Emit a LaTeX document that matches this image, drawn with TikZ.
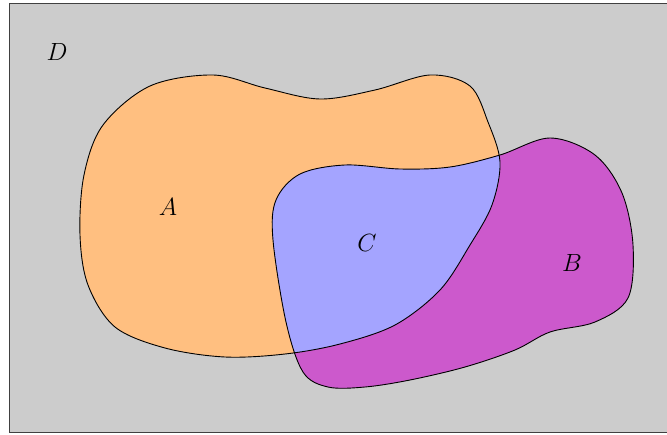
\documentclass[tikz,border=0pt]{standalone}
\begin{document}
\begin{tikzpicture}[x=1pt,y=-1pt]
\definecolor{cD}{RGB}{204,204,204}
\definecolor{cA}{RGB}{255,191,128}
\definecolor{cB}{RGB}{204,89,204}
\definecolor{cC}{RGB}{164,164,255}
\tikzset{
  outline/.style={draw=black,line width=0.9pt},
  setlabel/.style={font=\fontsize{24}{28}\selectfont},
}
\useasboundingbox (0,0) rectangle (667,434);
\def\pathA{plot[smooth cycle,tension=0.55] coordinates {(213,75) (265,88) (320,99) (375,90) (430,75) (470,86) (488,122) (500,162) (492,205) (470,245) (440,290) (395,325) (340,344) (285,354) (225,357) (165,348) (115,327) (88,285) (80,235) (84,175) (103,125) (150,86)}}
\def\pathB{plot[smooth cycle,tension=0.55] coordinates {(273,240) (276,200) (300,174) (345,165) (400,169) (450,167) (500,155) (550,138) (595,155) (622,193) (633,245) (628,298) (595,322) (550,332) (515,350) (465,367) (410,380) (365,387) (328,387) (303,372) (286,322)}}
\draw[fill=cD,draw=black!75,line width=0.9pt] (9.5,3.5) rectangle (670,432.5);
\fill[cA] \pathA;
\fill[cB] \pathB;
\begin{scope}
  \clip \pathA;
  \fill[cC] \pathB;
\end{scope}
\draw[outline] \pathA;
\draw[outline] \pathB;
\node[setlabel] (D) at (57,52) {$D$};
\node[setlabel] (A) at (168,207) {$A$};
\node[setlabel] (C) at (367,243) {$C$};
\node[setlabel] (B) at (572,263) {$B$};
\end{tikzpicture}
\end{document}
